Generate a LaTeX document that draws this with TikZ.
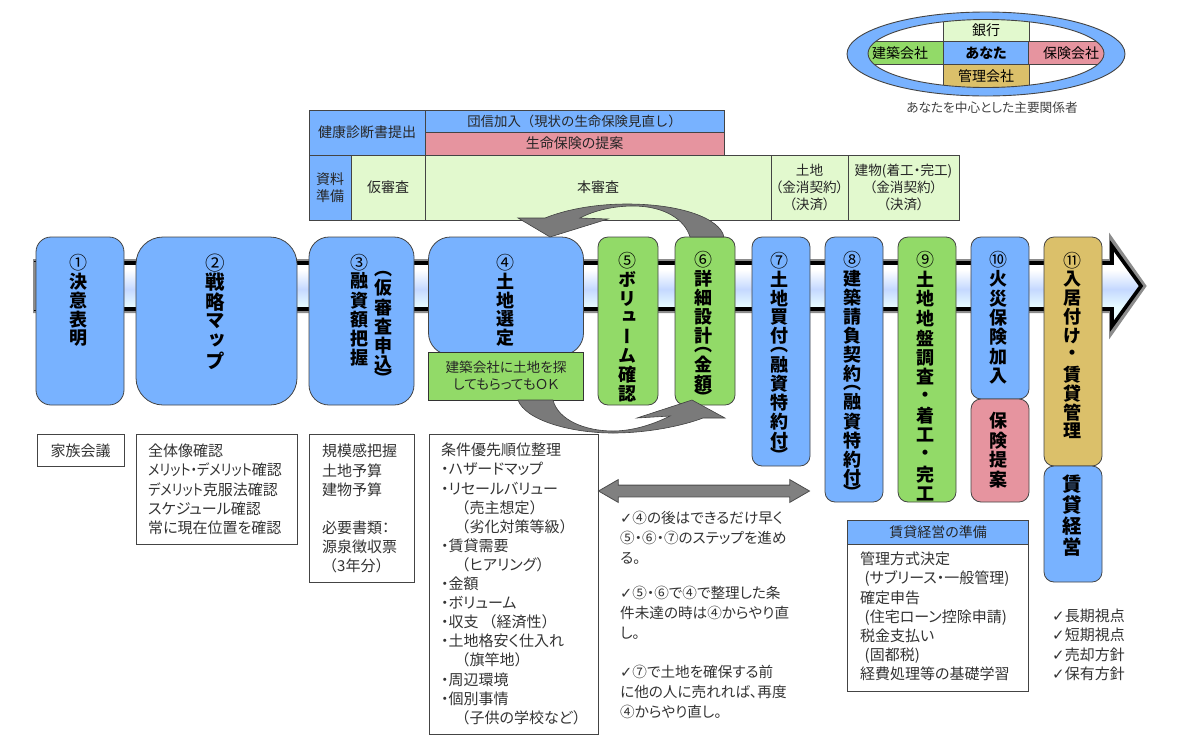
\documentclass[tikz,border=0pt]{standalone}
\usepackage{fontspec}
\usetikzlibrary{shapes,arrows,positioning,calc}
\setmainfont[RawFeature=+palt]{Noto Sans CJK JP}
\newfontfamily\tatefont[RawFeature=+vert]{Noto Sans CJK JP}
\newfontfamily\fullfont{Noto Sans CJK JP}
\newfontfamily\kanafont[RawFeature=+palt,FakeStretch=0.87]{Noto Sans CJK JP}
\newfontfamily\chkfont{DejaVu Sans}
\definecolor{stepblue}{HTML}{78B2FF}
\definecolor{stepgreen}{HTML}{92DA68}
\definecolor{steppink}{HTML}{E6949F}
\definecolor{steptan}{HTML}{DBC06A}
\definecolor{palegreen}{HTML}{E2F9CE}
\definecolor{edgegray}{HTML}{444444}
\definecolor{shaftmid}{HTML}{C4D8FF}
\definecolor{shaftlow}{HTML}{E8FCFF}
\pgfdeclareverticalshading{shaftfill}{100bp}{color(0bp)=(shaftlow);color(37bp)=(shaftlow);color(48bp)=(shaftmid);color(60bp)=(white);color(100bp)=(white)}
% vertical text, one character per cell
\makeatletter
\def\tatel{（}
\def\tater{）}
\newcommand{\tatecell}[2]{\vbox to #1{\vss\hbox to 1.1em{\hss#2\hss}\vss}}
\newcommand{\tate}[2]{\vbox{\offinterlineskip\@tfor\vch:=#2\do{%
  \ifx\vch\tatel\tatecell{\dimexpr#1pt/2\relax}{\vch}%
  \else\ifx\vch\tater\tatecell{\dimexpr#1pt/2\relax}{\vch}%
  \else\tatecell{#1pt}{\vch}\fi\fi}}}
\makeatother
\newcommand{\chk}{{\chkfont ✓}}
\newcommand{\kl}{{\fullfont （}}
\newcommand{\kr}{{\fullfont ）}}

\begin{document}
\begin{tikzpicture}[x=1pt,y=-1pt]
  \tikzstyle{stepbox}=[rectangle, draw=edgegray, line width=0.8pt, inner sep=0pt, fill=stepblue]
  \tikzstyle{steplabel}=[anchor=north, inner sep=0pt, font=\tatefont\bfseries\fontsize{18}{18}\selectfont]
  \tikzstyle{cell}=[rectangle, draw=edgegray, line width=0.9pt, inner sep=0pt, align=center, text=black!85, font=\fontsize{14}{17}\selectfont]
  \tikzstyle{notebox}=[rectangle, draw=edgegray, line width=0.9pt, inner sep=0pt, fill=white]
  \tikzstyle{note}=[anchor=north west, inner sep=0pt, align=left, text=black!80, font=\fontsize{15}{19.1}\selectfont]
  \tikzstyle{turn}=[draw=black!75, line width=0.6pt, fill=black!52]
  \tikzstyle{shaft}=[line join=miter, miter limit=6]

  \useasboundingbox (0,0) rectangle (1185,753);

  % Main arrow
  \draw[shaft, draw=black!45, line width=6pt] (36,262) -- (1112,262) -- (1112,242) -- (1143,286) -- (1112,330) -- (1112,310) -- (36,310) -- cycle;
  \draw[shaft, draw=black, line width=3.6pt, shading=shaftfill] (36,263) -- (1112,263) -- (1112,246) -- (1141,286) -- (1112,326) -- (1112,309) -- (36,309) -- cycle;
  \fill[black!45] (33,262) rectangle (37,310);

  % Stakeholders
  \node[ellipse, draw=edgegray, line width=0.9pt, fill=stepblue, inner sep=0pt, minimum width=278pt, minimum height=84pt] (ring) at (986,54) {};
  \node[ellipse, fill=white, inner sep=0pt, minimum width=236pt, minimum height=68pt] (core) at (986,53.5) {};
  \begin{scope}
    \clip (986,53.5) ellipse [x radius=118pt, y radius=34pt];
    \node[cell, fill=palegreen, minimum width=86pt, minimum height=22pt] (bank) at (986,30) {};
    \node[cell, fill=stepgreen, minimum width=76pt, minimum height=23pt] (builder) at (905,53) {};
    \node[cell, fill=stepblue, minimum width=86pt, minimum height=23pt] (you) at (986,53) {};
    \node[cell, fill=steppink, minimum width=76pt, minimum height=23pt] (insurer) at (1066,53) {};
    \node[cell, fill=steptan, minimum width=86pt, minimum height=23pt] (manager) at (986,76) {};
  \end{scope}
  \node[ellipse, draw=edgegray, line width=0.9pt, inner sep=0pt, minimum width=236pt, minimum height=68pt] (coreline) at (986,53.5) {};
  \node[text=black, font=\fontsize{14}{14}\selectfont] (banktxt) at (986,30) {銀行};
  \node[text=black, font=\fontsize{14}{14}\selectfont] (buildertxt) at (900,53) {建築会社};
  \node[text=black, font=\bfseries\fontsize{14}{14}\selectfont] (youtxt) at (986,53) {あなた};
  \node[text=black, font=\fontsize{14}{14}\selectfont] (insurertxt) at (1071,53) {保険会社};
  \node[text=black, font=\fontsize{14}{14}\selectfont] (managertxt) at (986,76) {管理会社};
  \node[text=black!75, font=\fontsize{12.7}{13}\selectfont] (ringcap) at (992,108) {あなたを中心とした主要関係者};

  % Schedule table
  \node[cell, fill=stepblue, minimum width=116pt, minimum height=45pt] (health) at (367,132.5) {健康診断書提出};
  \node[cell, fill=stepblue, minimum width=299pt, minimum height=22pt, font=\fullfont\fontsize{13.4}{17}\selectfont] (group) at (574.5,121) {団信加入（現状の生命保険見直し）};
  \node[cell, fill=steppink, minimum width=299pt, minimum height=23pt] (life) at (574.5,143.5) {生命保険の提案};
  \node[cell, fill=stepblue, minimum width=42pt, minimum height=65pt] (docs) at (330,187.5) {資料\\準備};
  \node[cell, fill=palegreen, minimum width=74pt, minimum height=65pt] (pre) at (388,187.5) {仮審査};
  \node[cell, fill=palegreen, minimum width=346pt, minimum height=65pt] (main) at (598,187.5) {本審査};
  \node[cell, fill=palegreen, minimum width=77pt, minimum height=65pt, font=\fontsize{13.6}{17}\selectfont] (land) at (809.5,187.5) {土地\\（金消契約）\\（決済）};
  \node[cell, fill=palegreen, minimum width=111pt, minimum height=65pt, font=\fontsize{13.6}{17}\selectfont] (house) at (903.5,187.5) {建物(着工・完工)\\（金消契約）\\（決済）};

  % Steps
  \node[stepbox, minimum width=88pt, minimum height=168pt, rounded corners=15pt] (s1) at (80,321) {};
  \node[stepbox, minimum width=161pt, minimum height=168pt, rounded corners=27pt] (s2) at (216.5,321) {};
  \node[stepbox, minimum width=105pt, minimum height=168pt, rounded corners=20pt] (s3) at (361.5,321) {};
  \node[stepbox, minimum width=155pt, minimum height=118pt, rounded corners=22pt] (s4) at (506,296) {};
  \node[stepbox, fill=stepgreen, minimum width=60pt, minimum height=168pt, rounded corners=10pt] (s5) at (628,321) {};
  \node[stepbox, fill=stepgreen, minimum width=60pt, minimum height=168pt, rounded corners=10pt] (s6) at (705,321) {};
  \node[stepbox, minimum width=58pt, minimum height=229pt, rounded corners=10pt] (s7) at (781,351.5) {};
  \node[stepbox, minimum width=58pt, minimum height=265pt, rounded corners=10pt] (s8) at (854,369.5) {};
  \node[stepbox, fill=stepgreen, minimum width=58pt, minimum height=265pt, rounded corners=10pt] (s9) at (927,369.5) {};
  \node[stepbox, minimum width=58pt, minimum height=162pt, rounded corners=10pt] (s10) at (1000,318) {};
  \node[stepbox, fill=steppink, minimum width=58pt, minimum height=103pt, rounded corners=10pt] (offer) at (1000,450.5) {};
  \node[stepbox, fill=steptan, minimum width=58pt, minimum height=229pt, rounded corners=10pt] (s11) at (1073,351.5) {};
  \node[stepbox, minimum width=58pt, minimum height=116pt, rounded corners=10pt] (rent) at (1073,524) {};
  \node[cell, fill=stepgreen, line width=1pt, draw=black!80, minimum width=155pt, minimum height=48pt, font=\fontsize{13.6}{17}\selectfont] (hint) at (506,376) {建築会社に土地を探\\してもらってもＯＫ};

  % Step labels
  \node[steplabel] (t1) at (78,252.5) {\tate{19}{{\mdseries ①}決意表明}};
  \node[steplabel, font=\tatefont\bfseries\fontsize{19.5}{20}\selectfont] (t2) at (215,253) {\tate{19.5}{{\mdseries ②}戦略マップ}};
  \node[steplabel] (t3) at (359,252.5) {\tate{19}{{\mdseries ③}融資額把握}};
  \node[steplabel] (t3b) at (383,269) {\tate{19}{（仮審査申込）}};
  \node[steplabel] (t4) at (505,252.5) {\tate{19}{{\mdseries ④}土地選定}};
  \node[steplabel] (t5) at (627,251) {\tate{19}{{\mdseries ⑤}ボリューム確認}};
  \node[steplabel] (t6) at (703,250) {\tate{19}{{\mdseries ⑥}詳細設計（金額）}};
  \node[steplabel] (t7) at (779,250.5) {\tate{19}{{\mdseries ⑦}土地買付（融資特約付）}};
  \node[steplabel] (t8) at (852,250) {\tate{19}{{\mdseries ⑧}建築請負契約（融資特約付）}};
  \node[steplabel] (t9) at (925,250) {\tate{19.5}{{\mdseries ⑨}土地地盤調査・着工・完工}};
  \node[steplabel] (t10) at (998,250) {\tate{19.3}{{\mdseries ⑩}火災保険加入}};
  \node[steplabel] (toffer) at (998,411) {\tate{19.5}{保険提案}};
  \node[steplabel] (t11) at (1072,250.5) {\tate{19}{{\mdseries ⑪}入居付け・賃貸管理}};
  \node[steplabel, font=\tatefont\bfseries\fontsize{19.5}{20}\selectfont] (trent) at (1072,473) {\tate{21}{賃貸経営}};

  % Turn arrows
  \draw[turn] (724,237) .. controls (720,218) and (680,204) .. (627,204) .. controls (600,204) and (570,208) .. (545,218) -- (518,218) -- (550,237) -- (608,219) -- (580,218) .. controls (595,210) and (615,206) .. (633,206) .. controls (665,206) and (685,220) .. (690,237) -- cycle;
  \draw[turn] (518,400) .. controls (525,420) and (570,433) .. (613,433) .. controls (650,433) and (685,425) .. (703,418) -- (725,418) -- (692,400) -- (637,418) -- (670,416) .. controls (650,426) and (630,431) .. (613,431) .. controls (585,431) and (558,420) .. (553,400) -- cycle;

  % Notes under the steps
  \node[notebox, minimum width=87pt, minimum height=32pt] (n1) at (80.5,450) {};
  \node[note, anchor=center] (n1txt) at (80.5,451) {家族会議};
  \node[notebox, minimum width=161pt, minimum height=110pt] (n2) at (216.5,489) {};
  \node[note] (n2txt) at (148,444) {全体像確認\\{\kanafont メリット・デメリット}確認\\{\kanafont デメリット}克服法確認\\スケジュール確認\\常に現在位置を確認};
  \node[notebox, minimum width=105pt, minimum height=148pt] (n3) at (361.5,508) {};
  \node[note] (n3txt) at (322,444) {規模感把握\\土地予算\\建物予算\\[19.1pt]必要書類：\\源泉徴収票\\\kl 3年分\kr};
  \node[notebox, minimum width=169pt, minimum height=300pt] (n4) at (514,584) {};
  \node[note] (n4txt) at (441,443) {条件優先順位整理\\・ハザードマップ\\・リセールバリュー\\\hspace*{0.9em}\kl 売主想定\kr\\\hspace*{0.9em}\kl 劣化対策等級\kr\\・賃貸需要\\\hspace*{0.9em}\kl ヒアリング\kr\\・金額\\・ボリューム\\・収支\hspace{0.2em}\kl 経済性\kr\\・土地格安く仕入れ\\\hspace*{0.9em}\kl 旗竿地\kr\\・周辺環境\\・個別事情\\\hspace*{0.9em}\kl 子供の学校など\kr};

  % Double arrow and remarks
  \node[double arrow, draw=black!70, line width=0.8pt, fill=black!50, inner sep=0pt, text height=11pt, text depth=0pt, minimum height=211pt, double arrow head extend=5.5pt, double arrow tip angle=60] (span) at (704,491) {};
  \node[note, font=\fontsize{14.6}{20}\selectfont] (r1) at (620,511) {\chk④の後はできるだけ早く\\⑤・⑥・⑦のステップを進め\\る。};
  \node[note, font=\fontsize{14.6}{20}\selectfont] (r2) at (620,586) {\chk⑤・⑥で④で整理した条\\件未達の時は④からやり直\\し。};
  \node[note, font=\fontsize{14.6}{20}\selectfont] (r3) at (620,665) {\chk⑦で土地を確保する前\\に他の人に売れれば、再度\\④からやり直し。};

  % Rental preparation
  \node[notebox, minimum width=181pt, minimum height=171pt] (prep) at (938,605.5) {};
  \node[cell, fill=stepblue, minimum width=181pt, minimum height=24pt] (prephead) at (938,532) {賃貸経営の準備};
  \node[note] (preptxt) at (860,552) {管理方式決定\\\hspace*{0.3em}(サブリース・一般管理)\\確定申告\\\hspace*{0.3em}(住宅ローン控除申請)\\税金支払い\\\hspace*{0.3em}(固都税)\\経費処理等の基礎学習};
  \node[note] (views) at (1052,609) {\chk 長期視点\\\chk 短期視点\\\chk 売却方針\\\chk 保有方針};
\end{tikzpicture}
\end{document}
